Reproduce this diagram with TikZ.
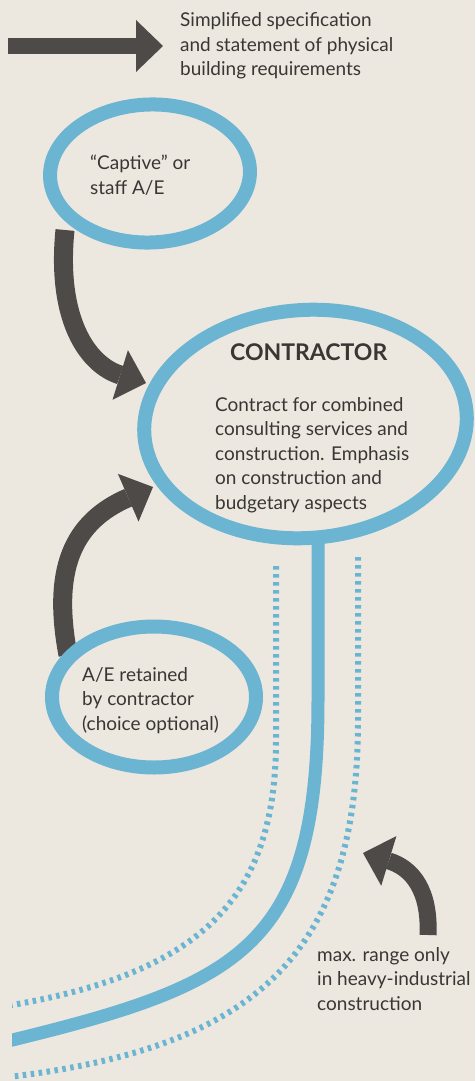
\documentclass[tikz,border=0pt]{standalone}
\usepackage{fontspec}
\setmainfont{Lato}
\usetikzlibrary{arrows.meta,shapes.geometric}
\definecolor{paper}{HTML}{ECE8E0}
\definecolor{ring}{HTML}{6BB5D3}
\definecolor{ink}{HTML}{4E4A48}
\definecolor{txt}{HTML}{3A3634}
\pgfdeclarelayer{bg}\pgfdeclarelayer{back}\pgfsetlayers{bg,back,main}
\begin{document}
\begin{tikzpicture}[x=1pt,y=-1pt,
 ringnode/.style={ellipse,draw=ring,line width=14pt,inner sep=0pt,outer sep=0pt},
 lbl/.style={anchor=base west,align=left,inner sep=0pt,text=txt,font=\fontsize{19}{24.4}\selectfont},
 fatarrow/.style={draw=ink,line width=19pt,-{Triangle[length=27pt,width=52pt,line width=0pt]}},
 solidline/.style={draw=ring,line width=13pt},
 dotline/.style={draw=ring,line width=6pt,dash pattern=on 3.5pt off 4.5pt}]
\begin{pgfonlayer}{bg}
\fill[paper] (0,0) rectangle (475,1081);
\end{pgfonlayer}
\useasboundingbox (0,0) rectangle (475,1081);
% ellipses
\node[ringnode,minimum width=200pt,minimum height=138pt,rotate=2] (cap) at (150,173.5) {};
\node[ringnode,minimum width=323pt,minimum height=228pt,rotate=4] (con) at (305.5,424) {};
\node[ringnode,minimum width=204pt,minimum height=141pt] (ret) at (154,697) {};
% texts (anchor = baseline of last line)
\node[lbl] (tspec) at (180,75.5) {Simplified specification\\and statement of physical\\building requirements};
\node[lbl] (tcap) at (90,194) {“Captive” or\\staff A/E};
\node[lbl,font={\fontsize{23}{24}\selectfont\bfseries}] (tconh) at (230,360) {CONTRACTOR};
\node[lbl] (tconb) at (215,509) {Contract for combined\\consulting services and\\construction. Emphasis\\on construction and\\budgetary aspects};
\node[lbl] (tret) at (82,730) {A/E retained\\by contractor\\(choice optional)};
\node[lbl] (tmax) at (317,1010) {max. range only\\in heavy-industrial\\construction};
% coordinates
\coordinate (a0) at (8,46);
\coordinate (b0) at (65,230);
\coordinate (b1) at (146,383);
\coordinate (c0) at (68,655);
\coordinate (c1) at (153,487);
\coordinate (d0) at (428,935);
\coordinate (d1) at (363,853);
\coordinate (s0) at (318,540);
\coordinate (l0) at (276,566);
\coordinate (r0) at (358,557);
\begin{pgfonlayer}{back}
\begin{scope}
\clip (12,0) rectangle (475,1081);
\draw[solidline] (s0) -- (318,700) .. controls (318,950) and (240,985) .. (0,1043);
\draw[dotline] (l0) -- (276,740) .. controls (276,900) and (200,975) .. (0,1007);
\draw[dotline] (r0) -- (358,720) .. controls (358,960) and (250,1050) .. (0,1078);
\end{scope}
\draw[fatarrow,line width=16pt,shorten >=17pt] (a0) -- (a0 -| tspec.west);
\draw[fatarrow] (b0) .. controls (56,320) and (88,365) .. (b1);
\draw[fatarrow] (c0) .. controls (52,570) and (72,522) .. (c1);
\draw[fatarrow,line width=17pt] (d0) .. controls (430,890) and (412,868) .. (d1);
\end{pgfonlayer}
\end{tikzpicture}
\end{document}
